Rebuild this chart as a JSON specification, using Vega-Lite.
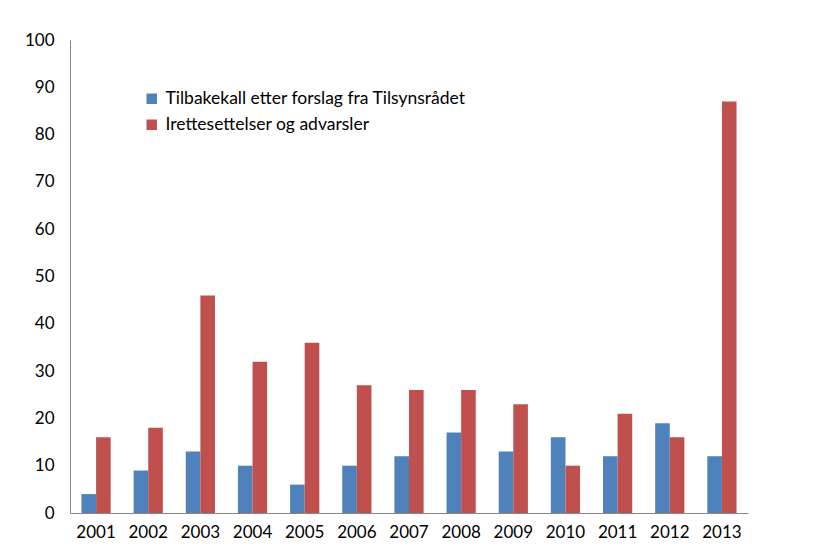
{
  "$schema": "https://vega.github.io/schema/vega-lite/v6.json",
  "width": 678,
  "height": 473,
  "autosize": "none",
  "padding": {"left": 70, "top": 40, "right": 88, "bottom": 45},
  "background": "white",
  "config": {"view": {"stroke": null}, "font": "Lato"},
  "data": {"values": [
    {"year": "2001", "series": "Tilbakekall etter forslag fra Tilsynsrådet", "value": 4},
    {"year": "2002", "series": "Tilbakekall etter forslag fra Tilsynsrådet", "value": 9},
    {"year": "2003", "series": "Tilbakekall etter forslag fra Tilsynsrådet", "value": 13},
    {"year": "2004", "series": "Tilbakekall etter forslag fra Tilsynsrådet", "value": 10},
    {"year": "2005", "series": "Tilbakekall etter forslag fra Tilsynsrådet", "value": 6},
    {"year": "2006", "series": "Tilbakekall etter forslag fra Tilsynsrådet", "value": 10},
    {"year": "2007", "series": "Tilbakekall etter forslag fra Tilsynsrådet", "value": 12},
    {"year": "2008", "series": "Tilbakekall etter forslag fra Tilsynsrådet", "value": 17},
    {"year": "2009", "series": "Tilbakekall etter forslag fra Tilsynsrådet", "value": 13},
    {"year": "2010", "series": "Tilbakekall etter forslag fra Tilsynsrådet", "value": 16},
    {"year": "2011", "series": "Tilbakekall etter forslag fra Tilsynsrådet", "value": 12},
    {"year": "2012", "series": "Tilbakekall etter forslag fra Tilsynsrådet", "value": 19},
    {"year": "2013", "series": "Tilbakekall etter forslag fra Tilsynsrådet", "value": 12},
    {"year": "2001", "series": "Irettesettelser og advarsler", "value": 16},
    {"year": "2002", "series": "Irettesettelser og advarsler", "value": 18},
    {"year": "2003", "series": "Irettesettelser og advarsler", "value": 46},
    {"year": "2004", "series": "Irettesettelser og advarsler", "value": 32},
    {"year": "2005", "series": "Irettesettelser og advarsler", "value": 36},
    {"year": "2006", "series": "Irettesettelser og advarsler", "value": 27},
    {"year": "2007", "series": "Irettesettelser og advarsler", "value": 26},
    {"year": "2008", "series": "Irettesettelser og advarsler", "value": 26},
    {"year": "2009", "series": "Irettesettelser og advarsler", "value": 23},
    {"year": "2010", "series": "Irettesettelser og advarsler", "value": 10},
    {"year": "2011", "series": "Irettesettelser og advarsler", "value": 21},
    {"year": "2012", "series": "Irettesettelser og advarsler", "value": 16},
    {"year": "2013", "series": "Irettesettelser og advarsler", "value": 87}
  ]},
  "mark": {"type": "bar"},
  "encoding": {
    "x": {
      "field": "year", "type": "nominal",
      "scale": {"paddingInner": 0.44, "paddingOuter": 0.22},
      "axis": {"title": null, "labelAngle": 0, "ticks": false, "domainColor": "#888888", "labelFontSize": 17, "labelColor": "#000000", "labelPadding": 11}
    },
    "xOffset": {"field": "series", "type": "nominal", "sort": ["Tilbakekall etter forslag fra Tilsynsrådet", "Irettesettelser og advarsler"]},
    "y": {
      "field": "value", "type": "quantitative",
      "scale": {"domain": [0, 100]},
      "axis": {"title": null, "grid": false, "ticks": false, "values": [0,10,20,30,40,50,60,70,80,90,100], "labelOverlap": false, "domainColor": "#888888", "labelFontSize": 17, "labelColor": "#000000", "labelPadding": 16}
    },
    "color": {
      "field": "series", "type": "nominal",
      "sort": ["Tilbakekall etter forslag fra Tilsynsrådet", "Irettesettelser og advarsler"],
      "scale": {"domain": ["Tilbakekall etter forslag fra Tilsynsrådet", "Irettesettelser og advarsler"], "range": ["#4F81BD", "#C0504D"]},
      "legend": {"title": null, "orient": "none", "legendX": 73, "legendY": 50, "symbolType": "square", "symbolSize": 110, "symbolStrokeWidth": 0, "labelFontSize": 17.5, "labelLimit": 0, "labelColor": "#000000", "rowPadding": 7, "labelOffset": 5}
    }
  }
}
